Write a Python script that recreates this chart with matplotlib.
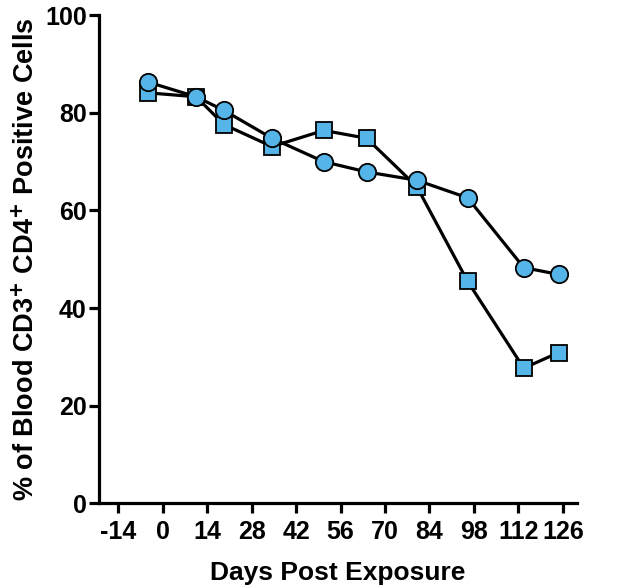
import matplotlib
matplotlib.use("Agg")
import matplotlib.pyplot as plt

plt.rcParams['font.family'] = ['Liberation Sans', 'DejaVu Sans']
plt.rcParams['font.weight'] = 'bold'
plt.rcParams['mathtext.default'] = 'bf'
plt.rcParams['axes.unicode_minus'] = False

# sampling days
days = [-4.6, 10.5, 19.3, 34.4, 50.7, 64.2, 80, 96, 113.7, 124.7]
circles = [86.3, 83.3, 80.5, 74.8, 70.0, 67.9, 66.2, 62.6, 48.3, 46.9]
squares = [84.1, 83.3, 77.6, 73.1, 76.4, 74.8, 64.9, 45.5, 27.7, 30.9]

xticks = [-14, 0, 14, 28, 42, 56, 70, 84, 98, 112, 126]
yticks = [0, 20, 40, 60, 80, 100]

blue = '#55b4e8'

fig = plt.figure(figsize=(6.28, 5.86), dpi=100)
ax = fig.add_axes([0.158, 0.141, 0.761, 0.833])

ax.plot(days, squares, color='black', lw=2.3, marker='s', ms=12,
        mfc=blue, mec='black', mew=1.3, zorder=3, clip_on=False)
ax.plot(days, circles, color='black', lw=2.3, marker='o', ms=12.5,
        mfc=blue, mec='black', mew=1.3, zorder=4, clip_on=False)

ax.set_xlim(-20, 130.5)
ax.set_ylim(0, 100)
ax.set_xticks(xticks)
ax.set_yticks(yticks)

for s in ['top', 'right']:
    ax.spines[s].set_visible(False)
for s in ['left', 'bottom']:
    ax.spines[s].set_linewidth(2.3)

ax.tick_params(axis='both', width=2.3, length=7, labelsize=18, pad=2)
ax.tick_params(axis='x', pad=5)
for lab in ax.get_xticklabels() + ax.get_yticklabels():
    lab.set_fontweight('bold')

ax.set_xlabel('Days Post Exposure', fontsize=19, fontweight='bold', labelpad=12)
ax.set_ylabel(r'% of Blood CD3$^{+}$ CD4$^{+}$ Positive Cells', fontsize=19.5,
              fontweight='bold', labelpad=4)

fig.savefig('out.png', dpi=100)
